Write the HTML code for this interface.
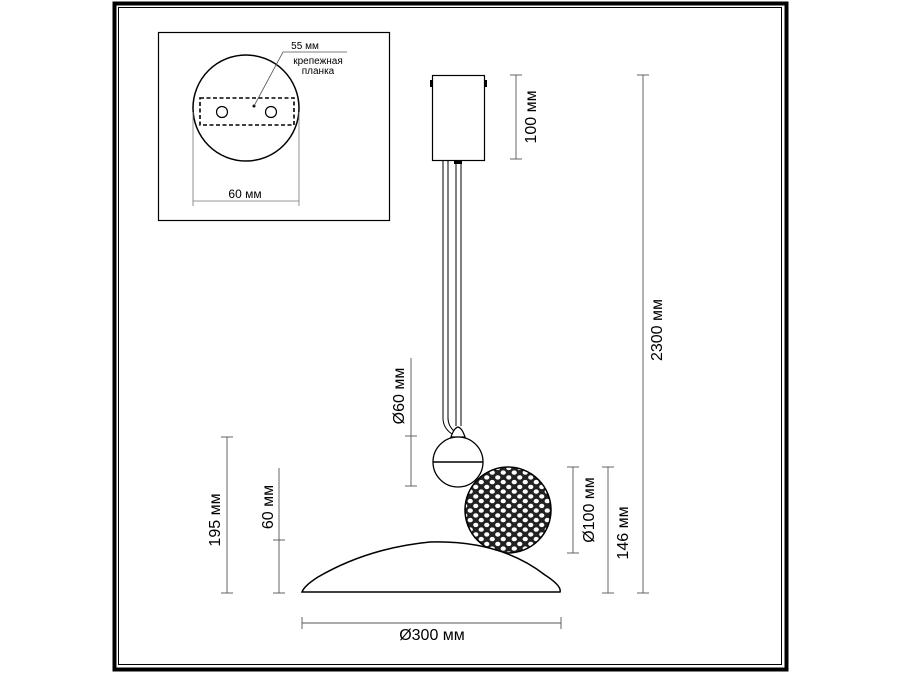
<!DOCTYPE html>
<html><head><meta charset="utf-8"><style>
html,body{margin:0;padding:0;background:#fff;}
svg{display:block;font-family:"Liberation Sans",sans-serif;}
</style></head><body>
<svg width="900" height="675" viewBox="0 0 900 675" xmlns="http://www.w3.org/2000/svg">
<defs>
<pattern id="mesh" width="11" height="9.5" patternUnits="userSpaceOnUse">
<rect width="11" height="9.5" fill="#222"/>
<ellipse cx="2.75" cy="2.4" rx="2.6" ry="2.2" fill="#fff"/>
<ellipse cx="8.25" cy="7.1" rx="2.6" ry="2.2" fill="#fff"/>
</pattern>
<clipPath id="mc"><circle cx="508" cy="510" r="43"/></clipPath>
</defs>
<rect x="114.5" y="3.5" width="672" height="666" fill="none" stroke="#000" stroke-width="4"/>
<rect x="118.5" y="7.5" width="663" height="657" fill="none" stroke="#000" stroke-width="1"/>
<!-- inset -->
<rect x="158.5" y="32.5" width="231" height="188" fill="none" stroke="#000" stroke-width="1.2"/>
<circle cx="246" cy="108" r="53" fill="none" stroke="#000" stroke-width="1.5"/>
<rect x="200" y="98" width="94" height="27" fill="none" stroke="#000" stroke-width="1.6" stroke-dasharray="4,2.5"/>
<circle cx="222" cy="112" r="5.5" fill="none" stroke="#000" stroke-width="1.2"/>
<circle cx="271" cy="112" r="5.5" fill="none" stroke="#000" stroke-width="1.2"/>
<circle cx="254" cy="106" r="1.5" fill="#000"/>
<polyline points="254,106 283,52 347,52" fill="none" stroke="#555" stroke-width="0.8"/>
<text x="305" y="49" font-size="10" text-anchor="middle">55 мм</text>
<text x="318" y="64" font-size="10" text-anchor="middle">крепежная</text>
<text x="318" y="74" font-size="10" text-anchor="middle">планка</text>
<line x1="193" y1="112" x2="193" y2="206" stroke="#777" stroke-width="0.8"/>
<line x1="299" y1="112" x2="299" y2="206" stroke="#777" stroke-width="0.8"/>
<line x1="193" y1="201" x2="299" y2="201" stroke="#777" stroke-width="0.8"/>
<text x="245" y="198" font-size="12" text-anchor="middle">60 мм</text>
<!-- canopy -->
<rect x="432.5" y="75.5" width="52" height="85" fill="none" stroke="#000" stroke-width="1.2"/>
<rect x="430" y="80" width="3" height="7" fill="#000"/>
<rect x="484" y="80" width="3" height="7" fill="#000"/>
<!-- cords -->
<path d="M443,161 V418 Q443,428 452,434" fill="none" stroke="#000" stroke-width="1"/>
<path d="M448,161 V418 Q448,426 455,432" fill="none" stroke="#000" stroke-width="1"/>
<path d="M456,161 V426" fill="none" stroke="#000" stroke-width="1"/>
<path d="M461,161 V426" fill="none" stroke="#000" stroke-width="1"/>
<rect x="454" y="160" width="8" height="4" fill="#000"/>
<path d="M451,437 Q454,428 458,427 Q462,428 465,437 Z" fill="#fff" stroke="#000" stroke-width="1.2"/>
<!-- small ball -->
<circle cx="458" cy="462" r="25" fill="#fff" stroke="#000" stroke-width="1.3"/>
<line x1="433" y1="462" x2="483" y2="462" stroke="#000" stroke-width="1.5"/>
<!-- mesh ball -->
<circle cx="508" cy="510" r="43" fill="url(#mesh)" clip-path="url(#mc)"/>
<circle cx="508" cy="510" r="43" fill="none" stroke="#000" stroke-width="1.5"/>
<!-- shade -->
<path d="M302,592 Q304,586 318,577 Q368,548 430,542 Q500,540 545,575 Q562,586 560,592 Z" fill="#fff" stroke="#000" stroke-width="1.5"/>
<!-- dims -->
<g stroke="#555" stroke-width="0.9" fill="none">
<line x1="516" y1="75" x2="516" y2="159"/><line x1="510" y1="75" x2="522" y2="75"/><line x1="510" y1="159" x2="522" y2="159"/>
<line x1="643" y1="75" x2="643" y2="593"/><line x1="637" y1="75" x2="649" y2="75"/><line x1="637" y1="593" x2="649" y2="593"/>
<line x1="411" y1="358" x2="411" y2="486"/><line x1="405" y1="436" x2="417" y2="436"/><line x1="405" y1="486" x2="417" y2="486"/>
<line x1="573" y1="467" x2="573" y2="553"/><line x1="567" y1="467" x2="579" y2="467"/><line x1="567" y1="553" x2="579" y2="553"/>
<line x1="608" y1="467" x2="608" y2="593"/><line x1="602" y1="467" x2="614" y2="467"/><line x1="602" y1="593" x2="614" y2="593"/>
<line x1="227" y1="437" x2="227" y2="593"/><line x1="221" y1="437" x2="233" y2="437"/><line x1="221" y1="593" x2="233" y2="593"/>
<line x1="279" y1="468" x2="279" y2="593"/><line x1="273" y1="540" x2="285" y2="540"/><line x1="273" y1="593" x2="285" y2="593"/>
<line x1="302" y1="623" x2="561" y2="623"/><line x1="302" y1="617" x2="302" y2="629"/><line x1="561" y1="617" x2="561" y2="629"/>
</g>
<g font-size="16" fill="#000" text-anchor="middle">
<text transform="translate(536,117) rotate(-90)">100 мм</text>
<text transform="translate(662,330) rotate(-90)">2300 мм</text>
<text transform="translate(404,396) rotate(-90)">Ø60 мм</text>
<text transform="translate(594,510) rotate(-90)">Ø100 мм</text>
<text transform="translate(628,533) rotate(-90)">146 мм</text>
<text transform="translate(220,520) rotate(-90)">195 мм</text>
<text transform="translate(273,507) rotate(-90)">60 мм</text>
<text x="432" y="640">Ø300 мм</text>
</g>
</svg>
</body></html>
